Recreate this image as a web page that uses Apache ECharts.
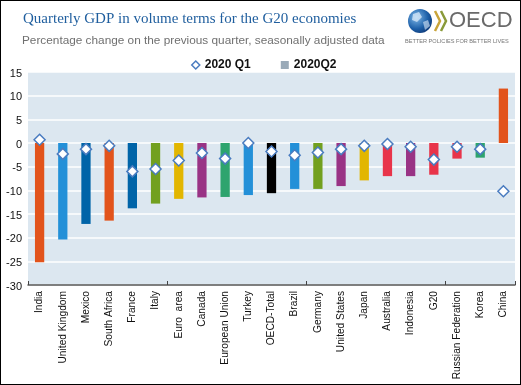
<!DOCTYPE html>
<html>
<head>
<meta charset="utf-8">
<script src="https://cdn.jsdelivr.net/npm/echarts@6/dist/echarts.min.js"></script>
<style>
html,body{margin:0;padding:0;background:#fff;overflow:hidden;}
#wrap{position:relative;width:521px;height:385px;}
#c{width:521px;height:385px;}
#frame{position:absolute;left:0;top:0;width:521px;height:385px;box-sizing:border-box;border:1px solid #000;pointer-events:none;}
</style>
</head>
<body>
<div id="wrap"><div id="c"></div><div id="frame"></div></div>
<script>
const categories = ['India','United Kingdom','Mexico','South Africa','France','Italy','Euro  area','Canada','European Union','Turkey','OECD-Total','Brazil','Germany','United States','Japan','Australia','Indonesia','G20','Russian Federation','Korea','China'];
const q2Values = [-25.2,-20.4,-17.1,-16.4,-13.8,-12.8,-11.8,-11.5,-11.4,-11.0,-10.6,-9.7,-9.7,-9.1,-7.9,-7.0,-7.0,-6.7,-3.3,-3.1,11.5];
const q1Values = [0.7,-2.3,-1.3,-0.6,-6.0,-5.5,-3.7,-2.1,-3.3,0.0,-1.8,-2.6,-2.0,-1.3,-0.6,-0.2,-0.8,-3.5,-0.8,-1.3,-10.2];
const barColors = ['#E2531B','#2390D8','#0064A8','#E2531B','#0064A8','#72A01F','#E2B600','#993385','#2EA46E','#2390D8','#000000','#2390D8','#72A01F','#993385','#E2B600','#E8344A','#993385','#E8344A','#E8344A','#2EA46E','#E2531B'];
const yTicks = {min:-30, max:15, interval:5};

const chart = echarts.init(document.getElementById('c'), null, {renderer:'canvas'});
const option = {
  animation:false,
  backgroundColor:'#fff',
  title:[
    {text:'Quarterly GDP in volume terms for the G20 economies', left:18, top:7,
     textStyle:{fontFamily:'Liberation Serif, serif', fontSize:15, fontWeight:'normal', color:'#1F5E9E'}},
    {text:'Percentage change on the previous quarter, seasonally adjusted data', left:17, top:30,
     textStyle:{fontFamily:'Liberation Sans, Arial, sans-serif', fontSize:11.8, fontWeight:'normal', color:'#707070'}}
  ],
  legend:{
    top:54, left:186, itemGap:30, itemWidth:8, itemHeight:8,
    textStyle:{fontFamily:'Liberation Sans, Arial, sans-serif', fontSize:12, fontWeight:'bold', color:'#111'},
    data:[
      {name:'2020 Q1', icon:'diamond', itemStyle:{color:'#fff', borderColor:'#4A7CC0', borderWidth:1.5}},
      {name:'2020Q2', icon:'rect', itemStyle:{color:'#9AAAB8'}}
    ]
  },
  grid:{left:28, right:6, top:72, bottom:100, show:true, backgroundColor:'#DCE7F0', borderWidth:0, outerBoundsMode:'none', containLabel:false},
  xAxis:[
    {type:'category', data:categories, position:'bottom',
     axisLine:{show:false}, axisTick:{show:false},
     axisLabel:{rotate:90, interval:0, margin:6, fontFamily:'Liberation Sans, Arial, sans-serif', fontSize:10.2, color:'#111'}},
    {type:'category', data:categories, position:'bottom',
     axisLine:{show:true, onZero:true, lineStyle:{color:'#555', width:1.5}},
     axisTick:{show:true, inside:true, length:4, lineStyle:{color:'#444'}},
     axisLabel:{show:false}}
  ],
  yAxis:{type:'value', min:yTicks.min, max:yTicks.max, interval:yTicks.interval,
    axisLine:{show:false}, axisTick:{show:false},
    splitLine:{lineStyle:{color:'#ffffff', width:1.5}},
    axisLabel:{fontFamily:'Liberation Sans, Arial, sans-serif', fontSize:11, color:'#111', margin:6, verticalAlign:'top', padding:[-4,0,0,0]}},
  series:[
    {name:'2020Q2', type:'bar', xAxisIndex:0, barWidth:'40%', itemStyle:{color:'#9AAAB8'},
     data:q2Values.map((v,i)=>({value:v, itemStyle:{color:barColors[i]}})), z:2},
    {name:'2020 Q1', type:'scatter', xAxisIndex:0, symbol:'diamond', symbolSize:11,
     itemStyle:{color:'#fff', borderColor:'#4A7CC0', borderWidth:1.5, opacity:1},
     data:q1Values, z:5}
  ],
  graphic:[
    {type:'circle', shape:{cx:420, cy:21, r:12},
     style:{fill:{type:'radial', x:0.35, y:0.35, r:0.8, colorStops:[{offset:0,color:'#7FB8E8'},{offset:0.6,color:'#1D5FA8'},{offset:1,color:'#0B2F6A'}]}}},
    {type:'polygon', shape:{points:[[413,14],[419,12],[422,17],[417,22],[412,20]]}, style:{fill:'rgba(220,235,250,0.75)'}},
    {type:'polygon', shape:{points:[[423,22],[428,20],[430,26],[425,30]]}, style:{fill:'rgba(220,235,250,0.6)'}},
    {type:'polyline', shape:{points:[[435,11],[440,21],[435,31]]}, style:{stroke:'#C9A43A', lineWidth:2.5, fill:'none'}},
    {type:'polyline', shape:{points:[[441,11],[446,21],[441,31]]}, style:{stroke:'#8A9A3A', lineWidth:2.5, fill:'none'}},
    {type:'text', left:449, top:10, style:{text:'OECD', fontFamily:'Liberation Sans, Arial, sans-serif', fontSize:22, fill:'#6A6A6A'}},
    {type:'text', left:405, top:38, style:{text:'BETTER POLICIES FOR BETTER LIVES', fontFamily:'Liberation Sans, Arial, sans-serif', fontSize:5.6, fill:'#777'}}
  ]
};
chart.setOption(option);
</script>
</body>
</html>
